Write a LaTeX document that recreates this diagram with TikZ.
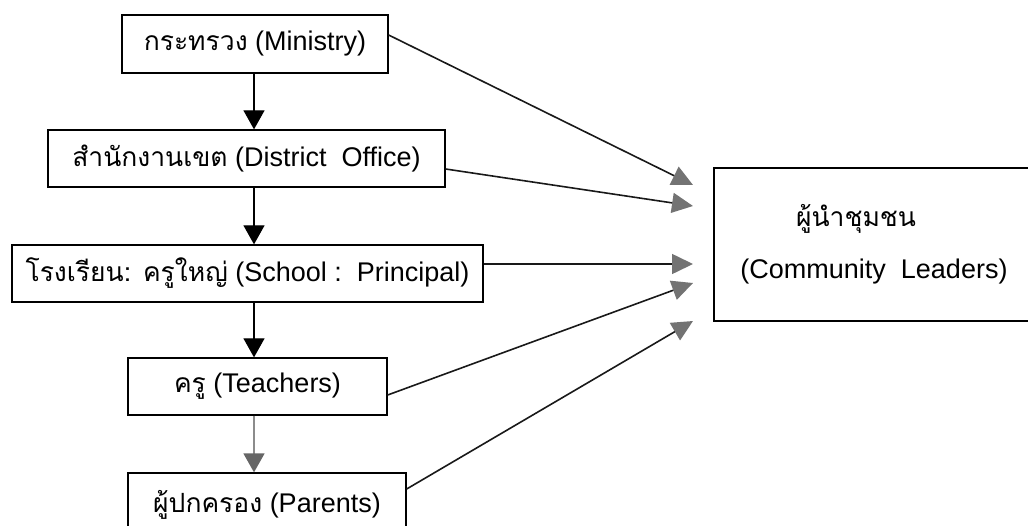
\documentclass[tikz,border=0pt]{standalone}
\usepackage{fontspec}
\setmainfont{Liberation Sans}
\newfontfamily\thaifont[Script=Thai,Scale=0.98]{Loma}
\usetikzlibrary{arrows.meta,calc}

\begin{document}
\begin{tikzpicture}[x=1pt,y=-1pt,
  box/.style={draw=black, line width=1.3pt, rectangle, inner sep=0pt,
    font=\fontsize{27}{32}\selectfont},
  down/.style={line width=1.2pt, -{Triangle[length=19pt,width=21pt]}},
  downgray/.style={line width=1.6pt, draw=black!45,
    -{Triangle[length=19pt,width=21pt,color=black!60]}},
  feed/.style={line width=1.6pt, draw=black!90,
    -{Triangle[length=21pt,width=20pt,color=black!55]}},
]
\useasboundingbox (0,0) rectangle (1028,525);
\clip (0,0) rectangle (1028,525);

% hierarchy boxes
\node[box, minimum width=266pt, minimum height=58pt] (M) at (255,44)
  {{\thaifont กระทรวง} (Ministry)};
\node[box, minimum width=397pt, minimum height=57pt] (D) at (246.5,158.5)
  {{\thaifont สำนักงานเขต} (District\ \ Office)};
\node[box, minimum width=471pt, minimum height=57pt] (S) at (247.5,273.5)
  {{\thaifont โรงเรียน: ครูใหญ่} (School :\ \ Principal)};
\node[box, minimum width=259pt, minimum height=57pt] (T) at (257.5,386.5)
  {{\thaifont ครู} (Teachers)};
\node[box, minimum width=278pt, minimum height=64pt] (P) at (267,505)
  {{\thaifont ผู้ปกครอง} (Parents)};

% community leaders box
\node[box, minimum width=320pt, minimum height=153pt, align=center] (C) at (874,244.5)
  {{\thaifont ผู้นำชุมชน}\hspace*{36pt}\\[20pt](Community\ \ Leaders)};

% vertical chain
\coordinate (spine) at (254,0);
\draw[down] (M.south -| spine) -- (D.north -| spine);
\draw[down] (D.south -| spine) -- (S.north -| spine);
\draw[down] (S.south -| spine) -- (T.north -| spine);
\draw[downgray] (T.south -| spine) -- (P.north -| spine);

% arrows towards the community leaders
\coordinate (t1) at (693,185);
\coordinate (t2) at (693,206);
\coordinate (t3) at (693,264);
\coordinate (t4) at (693,283);
\coordinate (t5) at (693,321);
\draw[feed] ($(M.east)+(0,-9)$) -- (t1);
\draw[feed] ($(D.east)+(0,10.5)$) -- (t2);
\draw[feed] ($(S.east)+(0,-9.5)$) -- (t3);
\draw[feed] ($(T.east)+(0,8.5)$) -- (t4);
\draw[feed] ($(P.east)+(0,-16)$) -- (t5);
\end{tikzpicture}
\end{document}
